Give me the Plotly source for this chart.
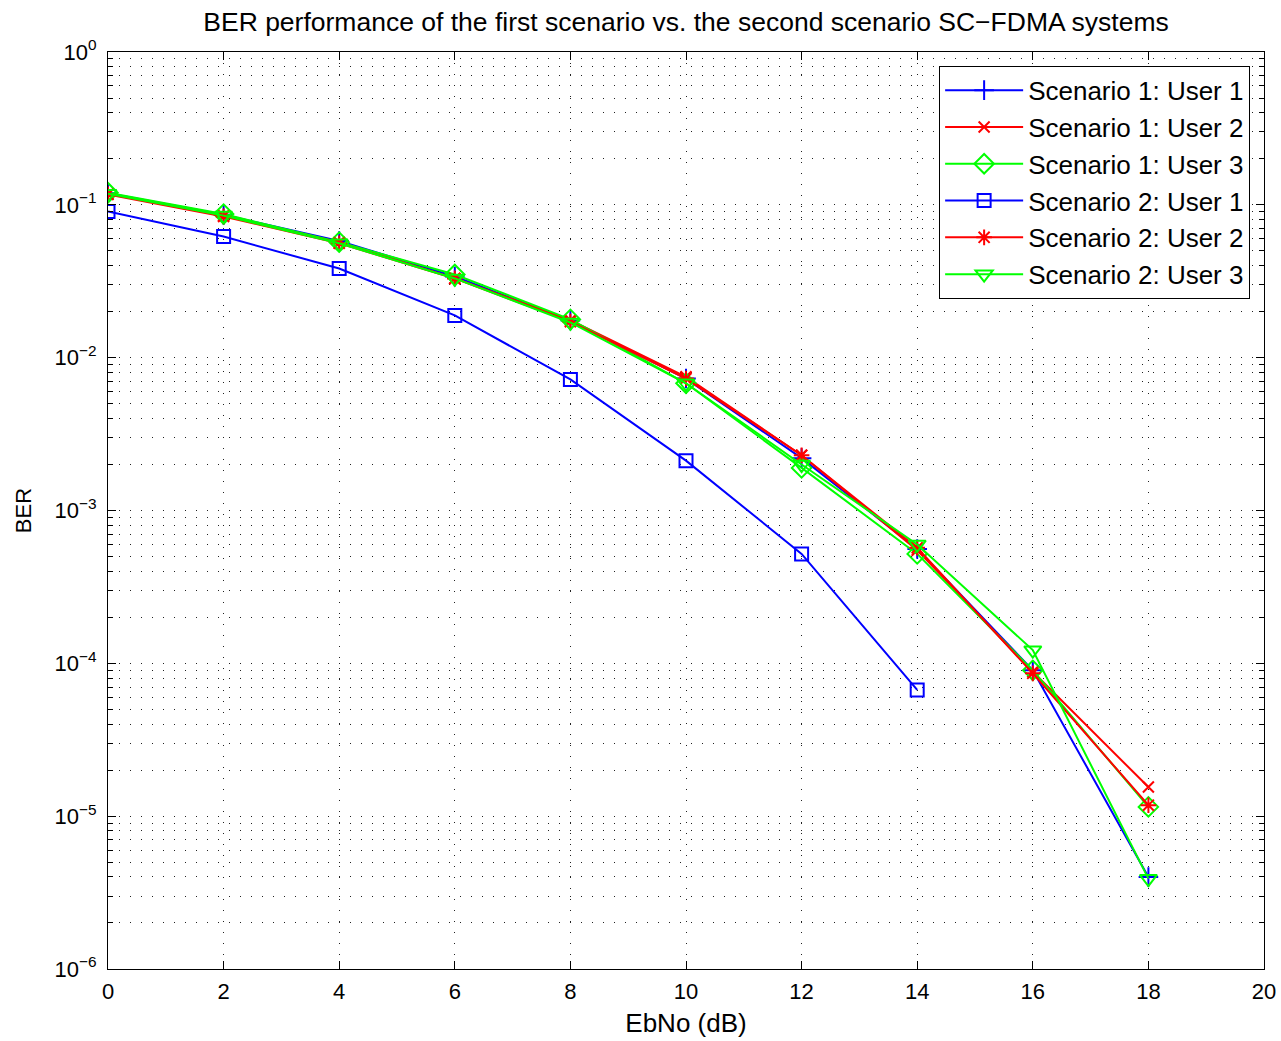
import plotly.graph_objects as go

# Eb/No sweep (dB)
ebno = [0, 2, 4, 6, 8, 10, 12, 14, 16, 18]
ebno_s2u1 = [0, 2, 4, 6, 8, 10, 12, 14]

# Bit error rates per user and scenario
ber_s1_u1 = [0.119, 0.086, 0.058, 0.034, 0.0175, 0.0073, 0.0022, 5.6e-4, 9.0e-5, 4.0e-6]
ber_s1_u2 = [0.118, 0.085, 0.057, 0.033, 0.0176, 0.0075, 0.0023, 5.5e-4, 8.8e-5, 1.55e-5]
ber_s1_u3 = [0.120, 0.087, 0.057, 0.035, 0.0178, 0.0068, 0.0019, 5.2e-4, 9.0e-5, 1.15e-5]
ber_s2_u1 = [0.0904, 0.062, 0.0383, 0.0189, 0.0072, 0.00212, 5.2e-4, 6.7e-5]
ber_s2_u2 = [0.117, 0.084, 0.056, 0.033, 0.0172, 0.0073, 0.0023, 5.7e-4, 8.6e-5, 1.18e-5]
ber_s2_u3 = [0.118, 0.085, 0.056, 0.033, 0.0170, 0.0068, 0.0020, 6.0e-4, 1.22e-4, 3.9e-6]

names = ["Scenario 1: User 1", "Scenario 1: User 2", "Scenario 1: User 3",
         "Scenario 2: User 1", "Scenario 2: User 2", "Scenario 2: User 3"]

y_tickvals = [1e-6, 1e-5, 1e-4, 1e-3, 1e-2, 1e-1, 1]
y_ticktext = ["10<sup>\u22126</sup>", "10<sup>\u22125</sup>", "10<sup>\u22124</sup>",
              "10<sup>\u22123</sup>", "10<sup>\u22122</sup>", "10<sup>\u22121</sup>",
              "10<sup>0</sup>"]
x_tickvals = [0, 2, 4, 6, 8, 10, 12, 14, 16, 18, 20]

BLUE, RED, GREEN = "#0000ff", "#ff0000", "#00ff00"

series = [
    (ebno, ber_s1_u1, BLUE, "cross-thin", 14),
    (ebno, ber_s1_u2, RED, "x-thin", 11),
    (ebno, ber_s1_u3, GREEN, "diamond-open", 15),
    (ebno_s2u1, ber_s2_u1, BLUE, "square-open", 13),
    (ebno, ber_s2_u2, RED, "asterisk-open", 13),
    (ebno, ber_s2_u3, GREEN, "triangle-down-open", 15),
]

fig = go.Figure()
for (xs, ys, col, sym, sz), nm in zip(series, names):
    fig.add_trace(go.Scatter(
        x=xs, y=ys, name=nm, mode="lines+markers",
        line=dict(color=col, width=2),
        marker=dict(symbol=sym, size=sz, color=col, line=dict(color=col, width=2)),
    ))

font_family = "Liberation Sans, Arial, Helvetica, sans-serif"
grid_kw = dict(gridcolor="#222222", griddash="1px,10px", gridwidth=1)

fig.update_layout(
    width=1281, height=1041,
    margin=dict(l=108, r=17, t=52, b=72, autoexpand=False),
    paper_bgcolor="white", plot_bgcolor="white",
    font=dict(family=font_family, color="black", size=22),
    title=dict(text="BER performance of the first scenario vs. the second scenario SC\u2212FDMA systems",
               x=(108 + 1264) / 2 / 1281, xanchor="center", y=1 - 22 / 1041, yanchor="middle",
               font=dict(size=26.5)),
    legend=dict(x=0.988, xanchor="right", y=0.985, yanchor="top",
                bgcolor="white", bordercolor="black", borderwidth=1,
                font=dict(size=26), itemwidth=78, tracegroupgap=0),
    showlegend=True,
)

fig.update_xaxes(
    range=[0, 20], tickvals=x_tickvals, ticks="inside", ticklen=8, tickcolor="black",
    showline=True, linecolor="black", linewidth=1, mirror="ticks",
    showgrid=True, zeroline=False, tickfont=dict(size=22), automargin=False,
    ticklabelstandoff=3,
    title=dict(text="EbNo (dB)", font=dict(size=26), standoff=10),
    **grid_kw,
)
fig.update_yaxes(
    type="log", range=[-6, 0], tickvals=y_tickvals, ticktext=y_ticktext,
    ticks="inside", ticklen=8, tickcolor="black",
    showline=True, linecolor="black", linewidth=1, mirror="ticks",
    showgrid=True, zeroline=False, tickfont=dict(size=22), automargin=False,
    ticklabelstandoff=6,
    title=dict(text="BER", font=dict(size=22), standoff=16),
    minor=dict(ticks="inside", ticklen=5, tickcolor="black", showgrid=True,
               dtick="D1", **grid_kw),
    **grid_kw,
)

fig.write_html("out.html")
